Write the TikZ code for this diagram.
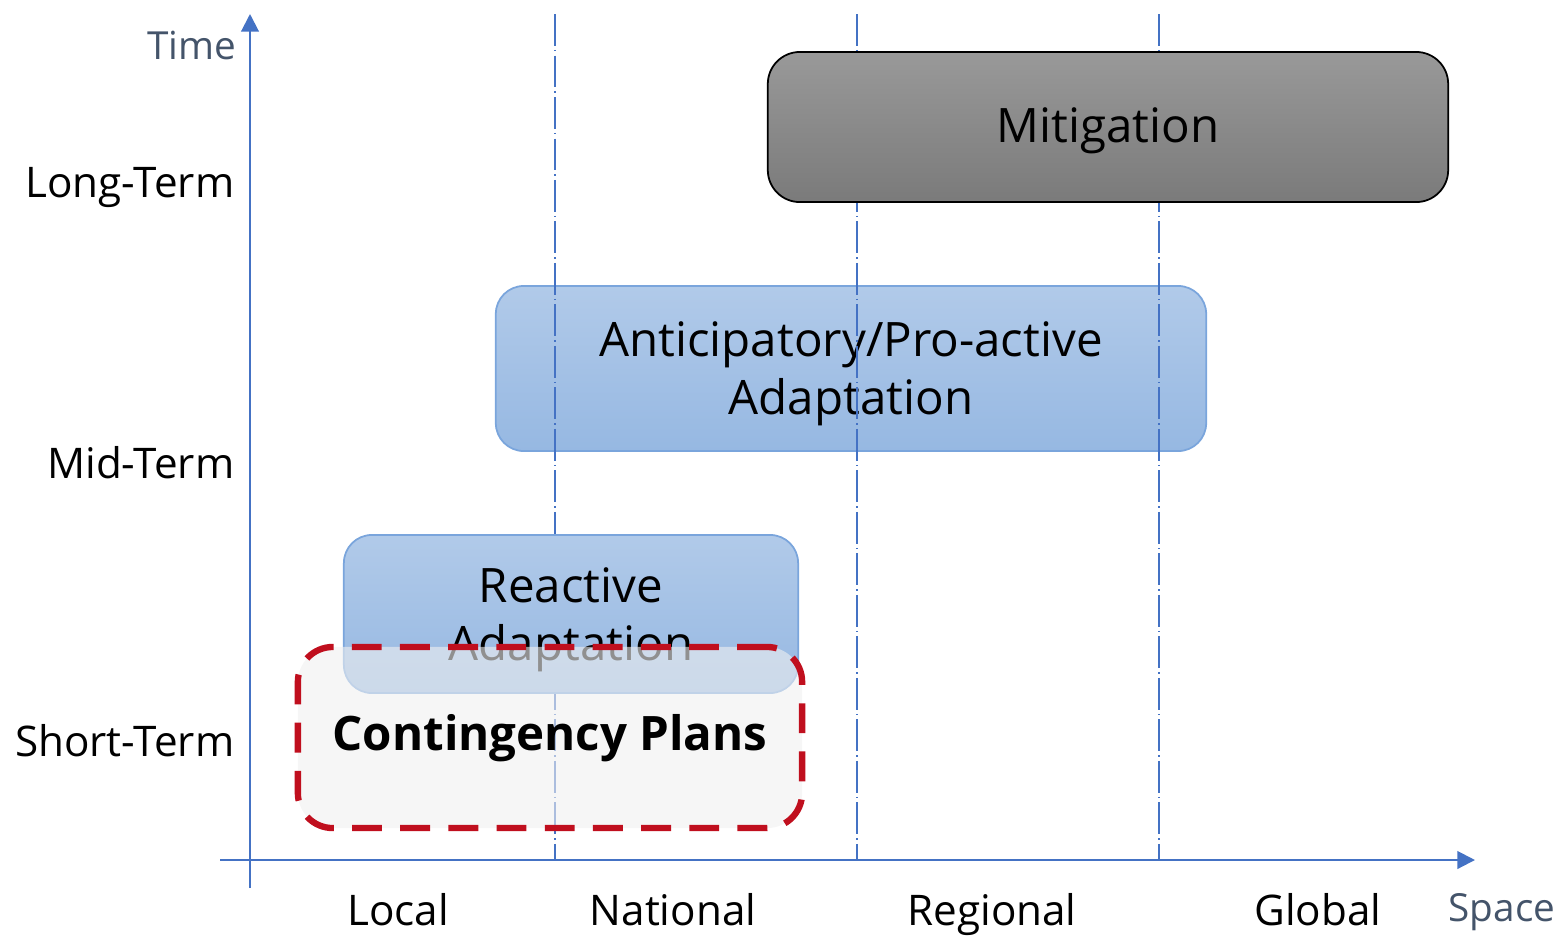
\documentclass[tikz,border=0pt]{standalone}
\usepackage{fontspec}
\setmainfont{Open Sans}
\usepackage{tikz}
\usetikzlibrary{arrows.meta}

\definecolor{axisblue}{HTML}{4472C4}
\definecolor{axistext}{HTML}{44546A}
\definecolor{boxline}{HTML}{7AA5DC}
\definecolor{boxtop}{HTML}{B1CAE9}
\definecolor{boxbottom}{HTML}{96B8E2}
\definecolor{plansred}{HTML}{C00F1E}

% text set on a given baseline below the node centre, taking no room
\newcommand{\lowered}[2]{\raisebox{#1}[0pt][0pt]{\makebox[0pt]{\parbox[b]{7cm}{\centering #2}}}}

\tikzset{
  axis/.style={draw=axisblue, line width=0.6pt, -{Triangle[length=5pt,width=5pt]}},
  scaleline/.style={draw=axisblue, line width=0.35pt, dash pattern=on 9pt off 1.2pt on 0.4pt off 1.2pt},
  adaptbox/.style={draw=boxline, line width=0.5pt, rounded corners=0.28cm,
    top color=boxtop, bottom color=boxbottom, font=\fontsize{13.5}{16.5}\selectfont},
  mitbox/.style={draw=black, line width=0.5pt, rounded corners=0.32cm,
    top color=black!40, bottom color=black!52, font=\fontsize{13.5}{16.5}\selectfont},
  plansbox/.style={draw=plansred, line width=1.8pt, dash pattern=on 8.5pt off 5.2pt,
    rounded corners=0.35cm, fill=black!6, fill opacity=0.6, text opacity=1,
    font=\fontsize{13.5}{16.5}\selectfont\bfseries},
  ticklabel/.style={inner sep=0pt, font=\fontsize{12}{14}\selectfont},
  axislabel/.style={inner sep=0pt, text=axistext, font=\fontsize{11}{13}\selectfont}
}

\begin{document}
\begin{tikzpicture}[x=0.01cm, y=-0.01cm]
\useasboundingbox (0,0) rectangle (1559,935);

\node[adaptbox, minimum width=7.1cm, minimum height=1.65cm] (antic) at (851,368.5)
  {\lowered{-13.2pt}{Anticipatory/Pro-active\\Adaptation}};

% scale borders
\foreach \x in {555,857,1159}
  \draw[scaleline] (\x,14) -- (\x,860);

\node[adaptbox, minimum width=4.54cm, minimum height=1.58cm] (react) at (571,614)
  {\lowered{-13.2pt}{Reactive\\Adaptation}};

\node[mitbox, minimum width=6.8cm, minimum height=1.5cm] (mitig) at (1108,127)
  {\lowered{-4.3pt}{Mitigation}};

\node[plansbox, minimum width=5.04cm, minimum height=1.81cm] (plans) at (550,737.5)
  {\lowered{-3.8pt}{Contingency Plans}};

% axes
\coordinate (origin) at (250,860);
\draw[axis] (250,888) -- (250,14);
\draw[axis] (220,860) -- (1475,860);

\node[axislabel, anchor=base east] (time) at (237,59) {Time};
\node[axislabel, anchor=base] (space) at (1502,921) {Space};

\foreach \y/\ytext in {197/Long-Term,478/Mid-Term,756/Short-Term}
  \node[ticklabel, anchor=base east] at (235,\y) {\ytext};

\foreach \x/\xtext in {398/Local,673/National,992/Regional,1318/Global}
  \node[ticklabel, anchor=base] at (\x,925) {\xtext};
\end{tikzpicture}
\end{document}
